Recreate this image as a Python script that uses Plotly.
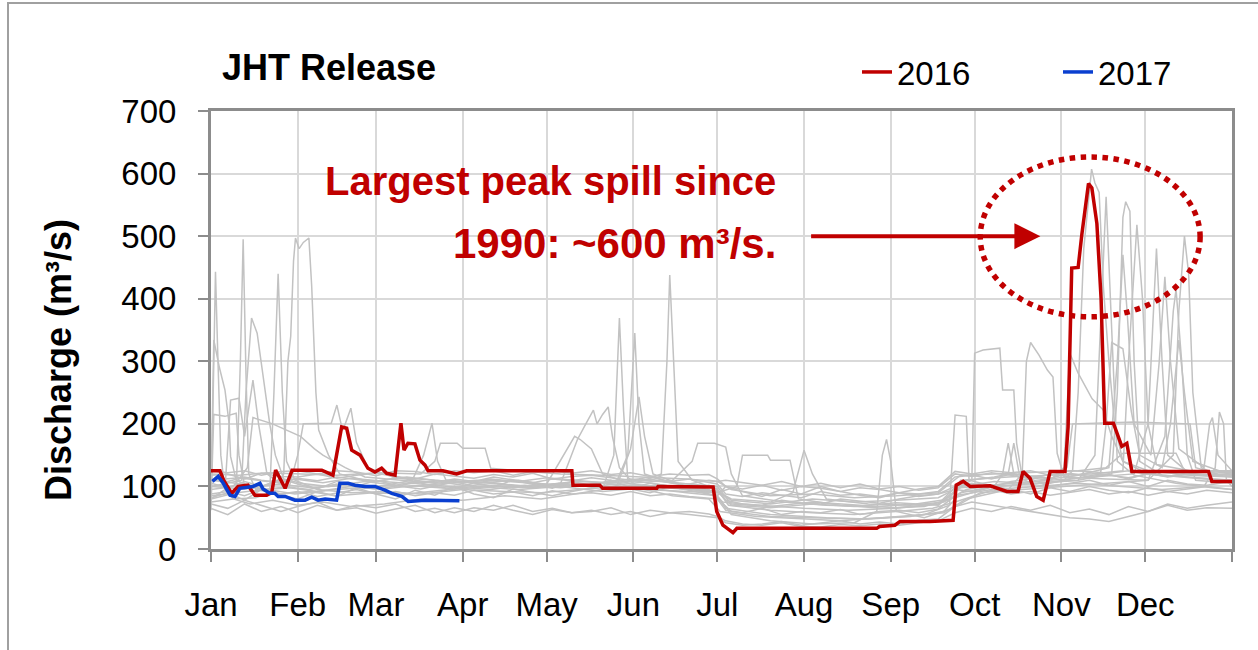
import plotly.graph_objects as go

# ---------------- data ----------------
month_labels = ["Jan", "Feb", "Mar", "Apr", "May", "Jun", "Jul", "Aug", "Sep", "Oct", "Nov", "Dec"]
month_start_day = [0, 31, 59, 90, 120, 151, 181, 212, 243, 273, 304, 334]
year_end_day = 365

# 2016 release (day of year, m3/s)
red_2016_day = [0, 3.2, 4.5, 7.4, 9.7, 13.2, 15.7, 19.9, 21.7, 23.1, 26.5, 29, 39.6, 43.6, 46.7, 48.5, 50.3,
                53.3, 56.1, 58.6, 61, 62.8, 65.8, 67.9, 69, 70.4, 72.9, 74.7, 76.5, 77.6, 82.9, 87.8, 91.4,
                129, 129.4, 139, 140, 159.4, 159.8, 165, 179.5, 180.8, 183, 186.6, 188, 238, 239, 244.5,
                246.3, 257, 264.2, 265.3, 266.4, 268.9, 271.4, 278.5, 284.5, 288.5, 290.3, 292.8, 295.2,
                297.5, 300, 305.3, 306.4, 307.7, 310, 311.3, 313.7, 314.9, 316.7, 318.2, 319.5, 322.6,
                325.6, 327.4, 329.2, 356.6, 357.8, 365]
red_2016_q = [125, 125, 110, 89, 100, 102, 86, 86, 90, 126, 97, 126, 126, 118, 195, 193, 158,
              150, 129, 123, 129, 121, 118, 201, 158, 169, 168, 142, 134, 125, 125, 120, 125,
              125, 102, 102, 97, 97, 100, 100, 99, 60, 38, 26, 33, 33, 36, 38,
              44, 44, 46, 46, 102, 108, 100, 101, 92, 92, 124, 113, 84,
              78, 124, 124, 195, 449, 450, 502, 584, 577, 520, 400, 201, 201,
              164, 169, 124, 124, 108, 108]

# 2017 release
blue_2017_day = [0.5, 2.6, 4.4, 6.8, 8.6, 10.3, 15, 17.5, 18.6, 21, 22.8, 24, 26.5, 30, 33.6, 36, 38.3,
                 40.8, 44.9, 46.1, 49, 51.5, 55, 58.6, 62.2, 64.6, 68.2, 70.5, 76.5, 82, 88.8]
blue_2017_q = [108, 116, 105, 86, 84, 97, 100, 105, 96, 89, 89, 84, 84, 78, 78, 83, 78,
               80, 78, 105, 105, 102, 100, 100, 94, 89, 84, 76, 78, 78, 77]

# earlier years (grey), read as (day, m3/s) break points
g01_day = [0, 1.0, 1.6, 2.3, 3.5, 5, 8, 14, 22, 31, 40, 50, 62, 75, 90, 105, 118, 130, 140, 144, 146, 147.5, 149,
           155, 165, 178, 182, 195, 210, 225, 240, 255, 264, 266, 270, 271, 280, 295, 310, 316, 320, 322, 324,
           330, 345, 358, 365]
g01_q = [62, 300, 443, 330, 150, 95, 80, 72, 78, 70, 75, 68, 72, 80, 78, 85, 80, 88, 95, 150, 369, 220, 110,
         95, 85, 80, 60, 52, 48, 45, 50, 55, 70, 214, 212, 110, 100, 105, 110, 150, 563, 350, 140,
         118, 105, 98, 95]

g02_day = [0, 1, 3, 5, 6.5, 7, 9, 14, 20, 28, 38, 50, 60, 72, 85, 100, 112, 125, 140, 155, 161, 163, 164, 165.5,
           167, 172, 181, 185, 200, 215, 230, 245, 258, 266, 280, 295, 305, 308, 310, 312, 314.8, 316, 317.5,
           319, 321, 323, 326, 335, 350, 365]
g02_q = [90, 334, 290, 254, 200, 148, 110, 100, 95, 98, 92, 100, 96, 105, 100, 95, 102, 98, 105, 110, 120, 300,
         438, 300, 140, 110, 95, 70, 62, 58, 55, 60, 65, 75, 95, 100, 110, 125, 250, 480, 607, 585, 570,
         420, 300, 200, 140, 120, 115, 110]

g03_day = [0, 5, 9, 10.5, 11.5, 12.5, 13.5, 16, 25, 35, 45, 58, 70, 85, 100, 115, 125, 128, 131, 134, 136.7,
           138, 140, 142, 143.5, 146, 150, 165, 180, 184, 200, 220, 235, 250, 262, 268, 280, 295, 310, 322,
           324, 326, 327, 328.5, 330, 332, 340, 355, 365]
g03_q = [80, 85, 90, 300, 495, 280, 120, 95, 88, 92, 85, 90, 88, 95, 100, 98, 105, 140, 175, 200, 222,
         200, 215, 227, 180, 130, 110, 100, 90, 65, 55, 50, 48, 52, 60, 90, 100, 105, 110, 120,
         250, 530, 555, 540, 300, 140, 118, 112, 110]

g04_day = [0, 6, 11, 12.5, 14.5, 16.5, 17.5, 19, 21, 23, 26, 32, 42, 55, 70, 85, 100, 115, 130, 145, 149,
           151.5, 153, 155, 165, 178, 183, 195, 212, 228, 245, 260, 268, 272, 273, 276, 280, 282, 283, 287,
           288, 290, 300, 315, 330, 335, 338, 340, 342, 350, 365]
g04_q = [100, 105, 110, 250, 369, 345, 313, 260, 200, 150, 112, 105, 100, 108, 100, 105, 110, 105, 100, 108, 150,
         345, 200, 120, 105, 95, 75, 70, 65, 62, 65, 72, 100, 110, 313, 318, 320, 321, 254, 254,
         169, 115, 110, 115, 120, 200, 480, 300, 150, 120, 118]

g05_day = [0, 8, 16, 21, 22.5, 24, 25.5, 27, 30, 38, 50, 62, 75, 90, 105, 118, 132, 145, 150, 153, 155, 158,
           170, 180, 186, 200, 215, 232, 248, 262, 270, 285, 290, 291.5, 293, 296, 299, 301, 302.5, 305,
           320, 335, 344, 346, 348, 349.5, 351, 354, 360, 365]
g05_q = [75, 80, 82, 90, 250, 440, 250, 140, 110, 95, 90, 92, 88, 95, 92, 90, 95, 100, 160, 243, 180, 120,
         100, 85, 60, 52, 50, 48, 52, 58, 80, 95, 120, 300, 330, 310, 286, 275, 153, 115,
         112, 110, 150, 380, 500, 440, 250, 130, 118, 115]

g06_day = [0, 10, 18, 25, 26, 27.5, 28.5, 29.5, 30.2, 31.5, 33, 35, 36, 37.5, 38.5, 42, 46, 55, 70, 85, 100,
           115, 130, 150, 165, 172, 174, 180, 184, 186, 190, 205, 220, 238, 252, 264, 268, 285, 300, 315,
           326, 328, 331, 333, 335, 338, 350, 365]
g06_q = [110, 105, 100, 110, 120, 300, 340, 460, 497, 480, 490, 497, 420, 250, 190, 150, 120, 110, 105, 110, 105,
         100, 108, 105, 110, 140, 169, 169, 163, 120, 85, 75, 70, 68, 72, 80, 110, 115, 118, 120,
         125, 300, 518, 400, 200, 135, 125, 125]

g07_day = [0, 1, 5, 9, 10, 12, 20, 30, 45, 60, 72, 76, 79, 81, 84, 95, 110, 125, 140, 155, 170, 181, 186, 200,
           215, 230, 238, 240, 241.5, 243, 245, 255, 265, 275, 290, 305, 320, 335, 341, 344, 345, 347, 349,
           352, 365]
g07_q = [70, 215, 212, 217, 150, 100, 95, 88, 95, 100, 110, 150, 201, 140, 110, 100, 95, 100, 92, 98, 90, 85, 55, 45,
         40, 42, 60, 150, 175, 140, 60, 50, 65, 90, 95, 100, 105, 110, 180, 380, 415, 300, 150,
         110, 105]

g08_day = [0, 8, 13, 15, 22, 32, 37, 40, 48, 55, 68, 80, 95, 110, 125, 140, 155, 170, 181, 188, 190, 199, 200,
           207, 210, 225, 240, 255, 268, 280, 283, 285, 287, 295, 310, 325, 340, 355, 359, 360.5, 362, 363, 365]
g08_q = [95, 100, 130, 210, 200, 180, 160, 150, 130, 115, 110, 105, 110, 100, 105, 100, 95, 92, 90, 100, 150, 150, 142,
         142, 80, 70, 65, 68, 85, 100, 120, 169, 120, 100, 105, 100, 95, 100, 130, 219, 200, 110, 100]

g09_day = [0, 10, 20, 28, 31, 33, 43, 45, 47, 48, 50, 52, 56, 65, 80, 95, 110, 125, 140, 155, 170, 181, 186, 200,
           208, 212, 215, 220, 235, 250, 262, 270, 285, 300, 306, 308, 330, 350, 352, 360, 365]
g09_q = [85, 90, 95, 100, 150, 200, 201, 230, 190, 200, 225, 170, 130, 115, 110, 105, 110, 100, 105, 100, 95, 92, 80, 75,
         90, 158, 120, 80, 72, 70, 75, 95, 105, 110, 130, 200, 203, 200, 130, 120, 120]

g10_day = [0, 10, 20, 30, 45, 60, 75, 80, 82, 88, 90, 98, 100, 110, 125, 140, 155, 170, 181, 186, 200, 215, 230,
           245, 260, 268, 280, 295, 310, 320, 326, 345, 348, 365]
g10_q = [120, 118, 122, 120, 118, 122, 120, 140, 169, 169, 161, 161, 129, 125, 120, 118, 115, 112, 108, 95, 85, 88, 82,
         85, 90, 118, 120, 122, 125, 130, 153, 153, 125, 122]

g17_day = [0, 5, 7, 10, 12, 15, 17, 20, 26, 35, 45, 55, 65, 75, 85, 95, 105, 115, 125, 135, 145, 160, 175, 181,
           186, 200, 215, 230, 245, 260, 268, 280, 295, 305, 318, 320, 322, 326, 329, 332, 340, 343, 346, 348,
           351, 365]
g17_q = [80, 95, 238, 241, 180, 270, 200, 120, 100, 95, 104, 98, 102, 96, 105, 99, 103, 97, 104, 100, 98, 102, 96, 92,
         78, 72, 80, 75, 78, 82, 100, 108, 104, 110, 120, 200, 330, 320, 220, 150, 130, 200, 334, 250,
         140, 118]

g18_day = [0, 10, 20, 30, 40, 50, 60, 70, 80, 90, 100, 110, 120, 130, 140, 150, 160, 170, 181, 186, 200, 215,
           230, 245, 260, 268, 280, 285, 287, 289, 300, 310, 321, 324, 326, 327.5, 330, 336, 339, 341, 343,
           346, 355, 357, 358, 360, 365]
g18_q = [110, 114, 108, 112, 106, 113, 109, 115, 110, 106, 112, 108, 114, 110, 106, 112, 108, 104, 100, 72, 68, 75,
         70, 66, 72, 108, 115, 120, 169, 118, 112, 118, 130, 300, 470, 380, 200, 150, 300, 435, 300,
         160, 130, 200, 210, 150, 125]

g19_day = [0, 12, 24, 36, 48, 60, 72, 84, 96, 108, 120, 126, 130, 132, 136, 140, 150, 165, 181, 186, 200, 215,
           230, 245, 260, 268, 285, 300, 305, 307, 310, 315, 319, 322, 326, 335, 350, 365]
g19_q = [100, 96, 104, 98, 102, 95, 101, 97, 103, 99, 104, 150, 180, 175, 160, 120, 104, 98, 92, 70, 66, 72,
         68, 74, 70, 98, 104, 110, 130, 313, 281, 240, 222, 180, 140, 125, 118, 115]

# base-flow years sampled on a common set of days
base_day = [0, 6, 12, 18, 25, 31, 38, 45, 52, 59, 66, 73, 80, 87, 94, 101, 108, 115, 122, 129,
            136, 143, 150, 157, 164, 171, 178, 181, 184, 190, 197, 204, 211, 218, 225, 232, 239, 246, 253, 260,
            266, 272, 279, 286, 293, 300, 307, 314, 321, 328, 335, 342, 349, 356, 365]
g11_q = [125, 122, 125, 118, 124, 125, 120, 125, 123, 117, 125, 124, 119, 125, 122, 125, 118, 124, 125, 121,
         125, 119, 122, 116, 120, 118, 119, 112, 100, 96, 102, 94, 100, 97, 92, 98, 95, 90, 96, 100,
         124, 120, 125, 122, 125, 118, 125, 124, 121, 125, 119, 125, 122, 125, 124]
g12_q = [65, 55, 72, 60, 68, 58, 70, 62, 66, 57, 64, 70, 58, 66, 60, 70, 62, 55, 63, 58,
         60, 66, 55, 62, 58, 60, 56, 52, 45, 40, 38, 42, 36, 35, 39, 37, 40, 38, 42, 45,
         58, 65, 60, 68, 62, 70, 58, 64, 55, 68, 60, 70, 62, 66, 65]
g13_q = [105, 98, 108, 100, 112, 104, 96, 108, 100, 110, 102, 108, 100, 96, 106, 99, 110, 103, 97, 108,
         102, 110, 98, 105, 100, 96, 102, 96, 78, 72, 70, 78, 74, 72, 80, 76, 73, 80, 85, 88,
         100, 105, 98, 108, 112, 100, 105, 110, 102, 108, 100, 110, 104, 102, 108]
g14_q = [88, 92, 85, 95, 88, 92, 84, 90, 95, 88, 92, 85, 90, 86, 94, 88, 91, 85, 93, 88,
         90, 86, 92, 85, 88, 84, 82, 80, 62, 58, 65, 55, 60, 58, 63, 55, 60, 62, 58, 64,
         85, 90, 95, 88, 92, 86, 90, 95, 88, 92, 86, 92, 88, 94, 90]
g15_q = [118, 120, 112, 121, 116, 115, 120, 113, 118, 121, 116, 112, 120, 117, 113, 119, 115, 121, 112, 116,
         118, 114, 110, 115, 108, 112, 106, 104, 88, 84, 90, 86, 82, 92, 86, 88, 84, 90, 88, 92,
         115, 118, 112, 120, 117, 113, 121, 116, 119, 112, 121, 115, 119, 117, 119]
g16_q = [72, 65, 78, 70, 60, 68, 75, 62, 70, 66, 72, 60, 65, 58, 66, 62, 70, 60, 65, 58,
         62, 55, 60, 52, 58, 55, 52, 50, 42, 38, 40, 44, 38, 42, 45, 40, 43, 40, 46, 48,
         68, 75, 70, 64, 60, 55, 50, 48, 44, 52, 60, 72, 65, 70, 75]
g20_q = [82, 90, 78, 95, 86, 80, 92, 84, 98, 88, 80, 94, 86, 100, 88, 82, 96, 90, 85, 92,
         98, 104, 96, 90, 100, 94, 88, 85, 100, 92, 84, 95, 88, 100, 92, 86, 82, 90, 84, 88,
         95, 92, 100, 96, 88, 98, 92, 100, 94, 90, 98, 92, 96, 100, 95]
g21_q = [112, 108, 115, 110, 106, 113, 109, 115, 111, 107, 114, 110, 106, 112, 108, 115, 110, 106, 112, 109,
         114, 110, 108, 112, 106, 104, 110, 108, 110, 106, 102, 108, 100, 105, 98, 104, 96, 100, 94, 98,
         120, 116, 122, 118, 112, 120, 116, 122, 118, 114, 120, 116, 122, 118, 120]

grey_days = [g01_day, g02_day, g03_day, g04_day, g05_day, g06_day, g07_day, g08_day, g09_day, g10_day,
             g17_day, g18_day, g19_day,
             base_day, base_day, base_day, base_day, base_day, base_day, base_day, base_day]
grey_qs = [g01_q, g02_q, g03_q, g04_q, g05_q, g06_q, g07_q, g08_q, g09_q, g10_q,
           g17_q, g18_q, g19_q,
           g11_q, g12_q, g13_q, g14_q, g15_q, g16_q, g20_q, g21_q]

# ---------------- figure ----------------
FONT = "Liberation Sans, Arial, sans-serif"
RED = "#c00000"
BLUE = "#0a3fd0"
GREY = "#c2c2c2"

fig = go.Figure()

for d, q in zip(grey_days, grey_qs):
    fig.add_trace(go.Scatter(x=d, y=q, mode="lines", line=dict(color=GREY, width=1.5),
                             showlegend=False, hoverinfo="skip"))

fig.add_trace(go.Scatter(x=red_2016_day, y=red_2016_q, mode="lines", name="2016",
                         line=dict(color=RED, width=3.5), legend="legend"))
fig.add_trace(go.Scatter(x=blue_2017_day, y=blue_2017_q, mode="lines", name="2017",
                         line=dict(color=BLUE, width=3.5), legend="legend2"))

axis_line = "#8c8c8c"
fig.update_xaxes(range=[0, year_end_day],
                 tickvals=month_start_day + [year_end_day],
                 ticktext=month_labels + [""],
                 showgrid=True, gridcolor="#d9d9d9", gridwidth=1.5,
                 showline=True, linecolor=axis_line, linewidth=3, mirror=True,
                 ticks="outside", ticklen=10, tickwidth=1.5, tickcolor=axis_line,
                 zeroline=False, ticklabelstandoff=14,
                 tickfont=dict(family=FONT, size=33, color="black"))
fig.update_yaxes(range=[0, 700], dtick=100,
                 showgrid=True, gridcolor="#d9d9d9", gridwidth=1.5,
                 showline=True, linecolor=axis_line, linewidth=3, mirror=True,
                 ticks="outside", ticklen=10, tickwidth=1.5, tickcolor=axis_line,
                 zeroline=False, ticklabelstandoff=15,
                 tickfont=dict(family=FONT, size=33, color="black"))

# y-axis title
fig.add_annotation(x=(58 - 211) / 1021, y=(549 - 360) / 438, xref="paper", yref="paper",
                   text="<b>Discharge (m³/s)</b>", textangle=-90, showarrow=False,
                   xanchor="center", yanchor="middle",
                   font=dict(family=FONT, size=36, color="black"))

# Annotation text (right aligned lines)
fig.add_annotation(x=202.7, y=588, xref="x", yref="y", text="<b>Largest peak spill since</b>",
                   showarrow=False, xanchor="right", yanchor="middle",
                   font=dict(family=FONT, size=40, color=RED))
fig.add_annotation(x=202.7, y=489, xref="x", yref="y", text="<b>1990: ~600 m³/s.</b>",
                   showarrow=False, xanchor="right", yanchor="middle",
                   font=dict(family=FONT, size=42, color=RED))
# Arrow
fig.add_annotation(x=296.5, y=500, ax=214, ay=500, xref="x", yref="y", axref="x", ayref="y",
                   text="", showarrow=True, arrowhead=2, arrowsize=1.3, arrowwidth=4, arrowcolor=RED)
# Dotted ellipse
fig.add_shape(type="circle", xref="x", yref="y", x0=275, x1=353.6, y0=371, y1=626.5,
              line=dict(color=RED, width=5.5, dash="dot"), layer="above")

# outer chart frame
fig.add_shape(type="rect", xref="paper", yref="paper",
              x0=(8 - 211) / 1021, x1=(1300 - 211) / 1021,
              y0=(549 - 700) / 438, y1=(549 - 3) / 438,
              line=dict(color="#a0a0a0", width=2))

legend_font = dict(family=FONT, size=33, color="black")
fig.update_layout(
    width=1258, height=650,
    margin=dict(l=211, r=26, t=111, b=101),
    paper_bgcolor="white", plot_bgcolor="white",
    font=dict(family=FONT, color="black"),
    title=dict(text="<b>JHT Release</b>", x=222 / 1258, xanchor="left", xref="container",
               y=1 - 67 / 650, yanchor="middle", yref="container",
               font=dict(family=FONT, size=36, color="black")),
    legend=dict(orientation="h", x=(857 - 211) / 1021, xanchor="left",
                y=(549 - 72) / 438, yanchor="middle", font=legend_font,
                bgcolor="rgba(0,0,0,0)"),
    legend2=dict(orientation="h", x=(1058 - 211) / 1021, xanchor="left",
                 y=(549 - 72) / 438, yanchor="middle", font=legend_font,
                 bgcolor="rgba(0,0,0,0)"),
    showlegend=True,
)

fig.write_html("out.html", config={"displayModeBar": False},
               post_script="document.body.style.margin='0';")
